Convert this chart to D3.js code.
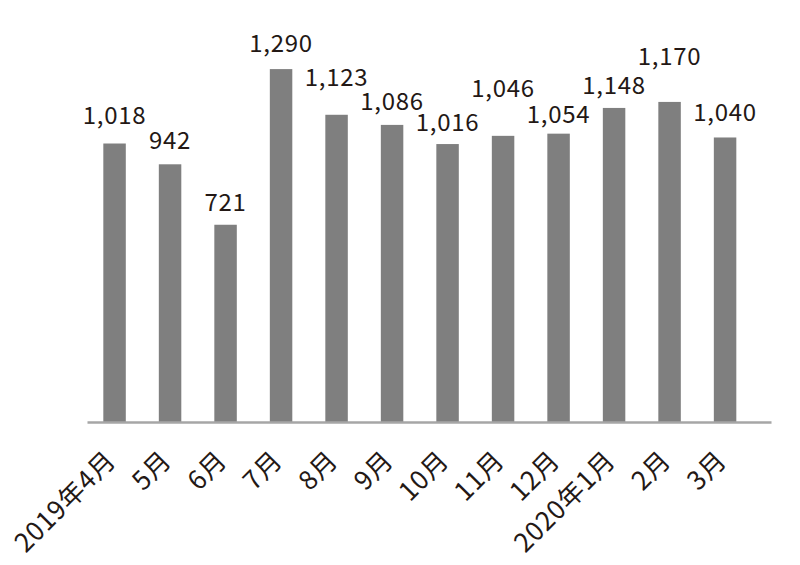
<!DOCTYPE html>
<html>
<head>
<meta charset="utf-8">
<script src="https://cdn.jsdelivr.net/npm/d3@7"></script>
<style>
  html, body { margin: 0; padding: 0; background: #fff; }
  #chart { width: 800px; height: 565px; }
  text { font-family: "Noto Sans CJK JP", "Noto Sans", sans-serif; }
</style>
</head>
<body>
<div id="chart"></div>
<script>
// 月ごとの件数
const months = ["2019年4月", "5月", "6月", "7月", "8月", "9月", "10月", "11月", "12月", "2020年1月", "2月", "3月"];
const counts = [1018, 942, 721, 1290, 1123, 1086, 1016, 1046, 1054, 1148, 1170, 1040];

const width = 800;
const height = 565;
const baseY = 422;

// ラベルの持ち上げ量（元図では手で配置されている）
const labelLift = [20, 15, 14, 17, 29, 15, 13, 39, 11, 14, 37, 16];

const svg = d3.select("#chart")
    .append("svg")
    .attr("width", width)
    .attr("height", height)
    .attr("viewBox", [0, 0, width, height]);

const x = d3.scaleBand()
    .domain(months)
    .range([87, 771])
    .paddingInner(0.595)
    .paddingOuter(0.4595)
    .align(0.32);

const y = d3.scaleLinear()
    .domain([0, 1400])
    .range([baseY, 39]);

const data = months.map((m, i) => ({ month: m, value: counts[i], lift: labelLift[i] }));

// 棒
svg.selectAll("rect.bar")
    .data(data)
    .join("rect")
    .attr("class", "bar")
    .attr("x", d => x(d.month))
    .attr("y", d => y(d.value))
    .attr("width", x.bandwidth())
    .attr("height", d => baseY - y(d.value))
    .attr("fill", "#7f7f7f");

// 横軸
const xAxis = svg.append("g")
    .attr("transform", `translate(0,${baseY})`)
    .call(d3.axisBottom(x).tickSize(0).tickSizeOuter(0));

xAxis.select(".domain")
    .attr("stroke", "#a6a6a6")
    .attr("stroke-width", 2.5);

xAxis.selectAll(".tick text")
    .attr("fill", "#231815")
    .attr("font-size", "26px")
    .attr("letter-spacing", "0.8px")
    .attr("text-anchor", "end")
    .attr("dy", "0")
    .attr("y", 0)
    .attr("transform", "translate(3,40) rotate(-45)");

// 数値ラベル
svg.selectAll("text.bar-value")
    .data(data)
    .join("text")
    .attr("class", "bar-value")
    .attr("x", d => x(d.month) + x.bandwidth() / 2)
    .attr("y", d => y(d.value) - d.lift)
    .attr("text-anchor", "middle")
    .attr("fill", "#231815")
    .attr("font-size", "24px")
    .attr("letter-spacing", "0.7px")
    .text(d => d3.format(",")(d.value));
</script>
</body>
</html>
